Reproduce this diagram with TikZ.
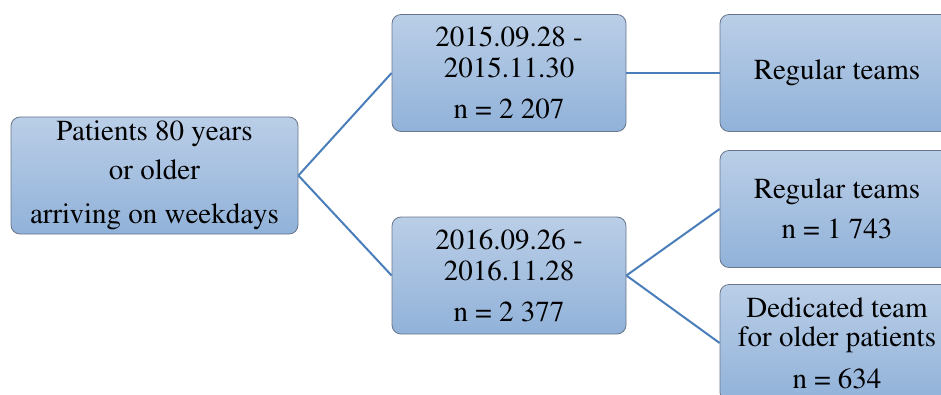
\documentclass[tikz,border=0pt]{standalone}
\usepackage[T1]{fontenc}
\usepackage{times}
\usepackage{tikz}
\usetikzlibrary{shapes,arrows}
\definecolor{boxtop}{RGB}{186,206,231}
\definecolor{boxbottom}{RGB}{145,178,217}
\definecolor{boxline}{RGB}{105,118,138}
\definecolor{linkblue}{RGB}{74,126,187}
\tikzstyle{group} = [rectangle, rounded corners=9pt, minimum width=287pt, minimum height=117pt, align=center, draw=boxline, line width=0.8pt, top color=boxtop, bottom color=boxbottom, font=\fontsize{29}{31}\selectfont]
\tikzstyle{period} = [group, minimum width=234pt]
\tikzstyle{link} = [draw=linkblue, line width=2pt]

\begin{document}
\begin{tikzpicture}[x=1pt, y=1pt, node distance=328pt]

\clip (0,0) rectangle (941,394);

\node (patients) [group] at (154.5,218.5) {Patients 80 years\\[8pt] or older\\[13pt] arriving on weekdays};
\node (first) [period, right of=patients, xshift=26.5pt, yshift=102.5pt] {2015.09.28 -\\ 2015.11.30\\[10pt] n = 2 207};
\node (second) [period, right of=patients, xshift=26.5pt, yshift=-100pt] {2016.09.26 -\\ 2016.11.28\\[10pt] n = 2 377};
\node (regular) [period, right of=first] {Regular teams};
\node (regularSecond) [period, right of=second, yshift=66.5pt] {Regular teams\\[9pt] n = 1 743};
\node (dedicated) [period, right of=second, yshift=-67.5pt] {Dedicated team\\[-2pt] for older patients\\[11pt] n = 634};

\draw [link] (patients.east) -- (first.west);
\draw [link] (patients.east) -- (second.west);
\draw [link] (first) -- (regular);
\draw [link] (second.east) -- (regularSecond.west);
\draw [link] (second.east) -- (dedicated.west);

\end{tikzpicture}
\end{document}
